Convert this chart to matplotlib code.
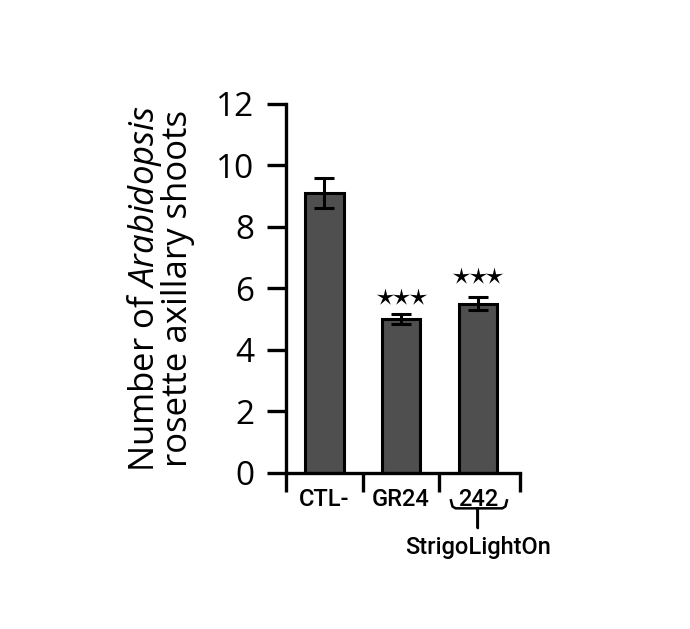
import numpy as np
import matplotlib
matplotlib.use('Agg')
import matplotlib.pyplot as plt
from matplotlib.path import Path

plt.rcParams['mathtext.fontset'] = 'custom'
plt.rcParams['mathtext.rm'] = 'Open Sans'
plt.rcParams['mathtext.it'] = 'Open Sans:italic'

# data
groups = ['CTL-', 'GR24', '242']
means = [9.1, 5.0, 5.5]
errs = [0.5, 0.15, 0.22]
n_stars = [0, 3, 3]
star_y = [0, 5.73, 6.4]
yticks = [0, 2, 4, 6, 8, 10, 12]

# thin five-point star marker
ang = np.pi / 2 + np.arange(10) * np.pi / 5
rad = np.where(np.arange(10) % 2 == 0, 1.0, 0.3)
star = Path(np.column_stack([rad * np.cos(ang), rad * np.sin(ang)]))

fig = plt.figure(figsize=(6.9, 6.29), dpi=100)
ax = fig.add_axes([0.4145, 0.2485, 0.3391, 0.5862])

x = np.arange(len(groups))
ax.bar(x, means, width=0.5, color='#4f4f4f', edgecolor='black', linewidth=2.2, zorder=2)
ax.errorbar(x, means, yerr=errs, fmt='none', ecolor='black', elinewidth=2.2,
            capsize=7, capthick=2.2, zorder=3)
for xi, n, sy in zip(x, n_stars, star_y):
    if n:
        sx = xi + (np.arange(n) - (n - 1) / 2) * 0.215
        ax.plot(sx, [sy] * n, linestyle='none', marker=star, markersize=13,
                markeredgewidth=0, color='black', clip_on=False)

ax.set_xlim(-0.5, 2.55)
ax.set_ylim(0, 12)
ax.set_yticks(yticks)
ax.set_yticklabels([str(v) for v in yticks], family='Open Sans', fontsize=24)

# ticks at group boundaries, labels under the bars
ax.set_xticks([-0.5, 0.5, 1.5, 2.55])
ax.set_xticklabels([])
ax.set_xticks(x, minor=True)
ax.set_xticklabels(groups, minor=True, family='Roboto', fontweight='medium', fontsize=17)
ax.tick_params(axis='x', which='minor', length=0, pad=11)
ax.tick_params(axis='both', which='major', length=14, width=2.4)
ax.tick_params(axis='y', pad=9)

for side in ['top', 'right']:
    ax.spines[side].set_visible(False)
for side in ['left', 'bottom']:
    ax.spines[side].set_linewidth(2.4)

ax.set_ylabel('Number of $\\mathit{Arabidopsis}$\nrosette axillary shoots',
              family='Open Sans', fontsize=25,
              labelpad=15, linespacing=0.88)

# bracket under "242"
bx = [1.65, 1.67, 1.71, 2.00, 2.00, 2.00, 2.32, 2.36, 2.38]
by = [-0.90, -1.10, -1.16, -1.16, -1.80, -1.16, -1.16, -1.10, -0.90]
ax.plot(bx, by, color='black', linewidth=1.8, clip_on=False)
ax.text(2.0, -2.45, 'StrigoLightOn', ha='center', va='center',
        family='Roboto', fontweight='medium', fontsize=17, clip_on=False)

fig.savefig('out.png', dpi=100)
